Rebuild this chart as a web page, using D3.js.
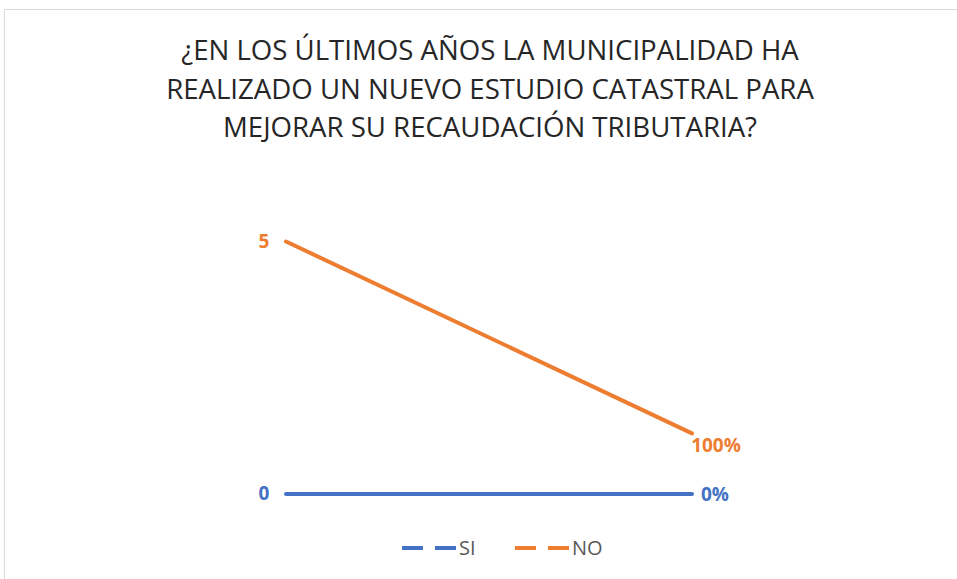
<!DOCTYPE html>
<html>
<head>
<meta charset="utf-8">
<script src="https://cdn.jsdelivr.net/npm/d3@7"></script>
<style>
  body { margin: 0; background: #fff; }
  svg { display: block; font-family: "Open Sans", "Liberation Sans", sans-serif; }
</style>
</head>
<body>
<svg id="chart" width="957" height="579"></svg>
<script>
// categories (no visible axis) and series
var categories = ["1", "2"];
var siValues = [0, 0];
var noValues = [5, 1.2];
var siLabels = ["0", "0%"];
var noLabels = ["5", "100%"];
var titleLines = [
    "¿EN LOS ÚLTIMOS AÑOS LA MUNICIPALIDAD HA",
    "REALIZADO UN NUEVO ESTUDIO CATASTRAL PARA",
    "MEJORAR SU RECAUDACIÓN TRIBUTARIA?"
];
var seriesNames = ["SI", "NO"];

var svg = d3.select("#chart");

// outer chart border
svg.append("rect")
    .attr("x", 4.5).attr("y", 9.5)
    .attr("width", 960).attr("height", 580)
    .attr("fill", "none").attr("stroke", "#d9d9d9");

// Title
svg.append("g").selectAll("text").data(titleLines).enter()
    .append("text")
    .attr("x", 490)
    .attr("y", function(d, i){ return 60 + i * 38.5; })
    .attr("text-anchor", "middle")
    .attr("font-size", 27.6)
    .attr("fill", "#262626")
    .text(function(d){ return d; });

var x = d3.scalePoint().domain(categories).range([286, 692]);
var y = d3.scaleLinear().domain([0, 5]).range([494, 241.5]);

var series = [
    {name: "SI", values: siValues, labels: siLabels, color: "#4472C4"},
    {name: "NO", values: noValues, labels: noLabels, color: "#ED7D31"}
];

var line = d3.line()
    .x(function(d, i){ return x(categories[i]); })
    .y(function(d){ return y(d); });

series.forEach(function(s){
    svg.append("path")
        .attr("d", line(s.values))
        .attr("fill", "none")
        .attr("stroke", s.color)
        .attr("stroke-width", 4)
        .attr("stroke-linecap", "round");

    // first point label sits left of the point, second label right/below
    svg.append("text")
        .attr("x", x(categories[0]) - 22)
        .attr("y", y(s.values[0]) + 6)
        .attr("text-anchor", "middle")
        .attr("font-size", 19).attr("font-weight", "bold")
        .attr("fill", s.color)
        .text(s.labels[0]);

    var last = s.values.length - 1;
    var dy = s.name === "NO" ? 19 : 7;
    var dx = s.name === "NO" ? 24 : 23;
    svg.append("text")
        .attr("x", x(categories[last]) + dx)
        .attr("y", y(s.values[last]) + dy)
        .attr("text-anchor", "middle")
        .attr("font-size", 19).attr("font-weight", "bold")
        .attr("fill", s.color)
        .text(s.labels[last]);
});

// Legend
var legend = svg.append("g").attr("transform", "translate(402,548)");
var lx = [0, 113];
series.forEach(function(s, i){
    var g = legend.append("g").attr("transform", "translate(" + lx[i] + ",0)");
    g.append("line")
        .attr("x1", 0).attr("x2", 55)
        .attr("stroke", s.color).attr("stroke-width", 4)
        .attr("stroke-dasharray", "21,12");
    g.append("text")
        .attr("x", 57).attr("y", 7)
        .attr("font-size", 20)
        .attr("fill", "#595959")
        .text(seriesNames[i]);
});
</script>
</body>
</html>
